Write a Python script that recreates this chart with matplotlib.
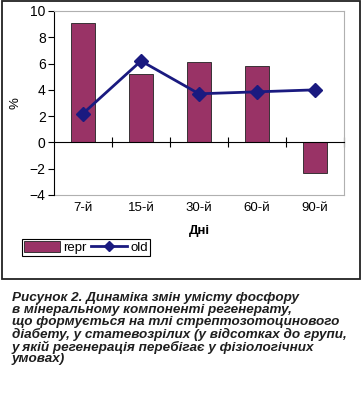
import matplotlib
matplotlib.use("Agg")
import matplotlib.pyplot as plt
import numpy as np
from matplotlib.patches import Rectangle
from matplotlib.lines import Line2D
from matplotlib.patches import Patch

categories = ["7-й", "15-й", "30-й", "60-й", "90-й"]
repr_vals = [9.1, 5.2, 6.1, 5.8, -2.3]
old_vals = [2.2, 6.2, 3.7, 3.85, 4.0]
yticks = [-4, -2, 0, 2, 4, 6, 8, 10]

bar_color = "#993366"
line_color = "#1a1a80"
font = "Liberation Sans"

fig = plt.figure(figsize=(3.62, 3.94), dpi=100)
ax = fig.add_axes([54/362, 1-195/394, 290/362, 184/394])
x = np.arange(len(categories))

ax.bar(x, repr_vals, width=0.43, color=bar_color, edgecolor="#222222", linewidth=0.6, zorder=2)
ax.plot(x, old_vals, color=line_color, linewidth=2, marker="D", markersize=7, zorder=3)

ax.set_xlim(-0.5, len(categories) - 0.5)
ax.set_ylim(-4, 10)
ax.set_yticks(yticks)
ax.set_yticklabels([("−" + str(-v)) if v < 0 else str(v) for v in yticks], fontfamily=font, fontsize=10)
ax.tick_params(axis="y", direction="out", length=4, width=0.8, pad=2)

# zero axis with boundary ticks
ax.spines["bottom"].set_position(("data", 0))
ax.spines["bottom"].set_color("black")
ax.spines["bottom"].set_linewidth(0.8)
ax.set_xticks(x)
ax.set_xticklabels([])
ax.tick_params(axis="x", which="major", length=0)
ax.set_xticks(np.arange(len(categories)) + 0.5, minor=True)
ax.tick_params(axis="x", which="minor", direction="inout", length=7, width=0.8)

for s in ["top", "right"]:
    ax.spines[s].set_color("#b0b0b0")
    ax.spines[s].set_linewidth(0.8)
ax.spines["left"].set_color("black")
ax.spines["left"].set_linewidth(0.8)

sec = ax.secondary_xaxis("bottom")
sec.set_xticks(x)
sec.set_xticklabels(categories, fontfamily=font, fontsize=9.5)
sec.tick_params(length=0, pad=5)
sec.spines["bottom"].set_color("#b0b0b0")
sec.spines["bottom"].set_linewidth(0.8)
sec.set_xlabel("Дні", fontfamily=font, fontsize=9.5, fontweight="bold", labelpad=8)

ax.set_ylabel("%", fontfamily=font, fontsize=9.5, labelpad=6)

# outer frame
fig.patches.append(Rectangle((2/362, 1-279/394), 358/362, 278/394, transform=fig.transFigure,
                             fill=False, edgecolor="#222222", linewidth=1.3))

handles = [Patch(facecolor=bar_color, edgecolor="#222222", linewidth=0.6),
           Line2D([], [], color=line_color, linewidth=2, marker="D", markersize=5)]
leg = fig.legend(handles, ["repr", "old"], loc="upper left", bbox_to_anchor=(22/362, 1-239/394),
                 ncol=2, frameon=True, fancybox=False, edgecolor="black", framealpha=1,
                 prop={"family": font, "size": 9.5}, borderpad=0.15, handlelength=2.7,
                 handleheight=0.9, handletextpad=0.3, columnspacing=0.3, borderaxespad=0)
leg.get_frame().set_linewidth(0.8)

caption = ("Рисунок 2. Динаміка змін умісту фосфору\n"
           "в мінеральному компоненті регенерату,\n"
           "що формується на тлі стрептозотоцинового\n"
           "діабету, у статевозрілих (у відсотках до групи,\n"
           "у якій регенерація перебігає у фізіологічних\n"
           "умовах)")
fig.text(12/362, 1-292/394, caption, ha="left", va="top", fontfamily=font, fontsize=9.7,
         fontweight="bold", fontstyle="italic", color="#1e1e1e", linespacing=0.98)

fig.savefig("out.png", dpi=100)
